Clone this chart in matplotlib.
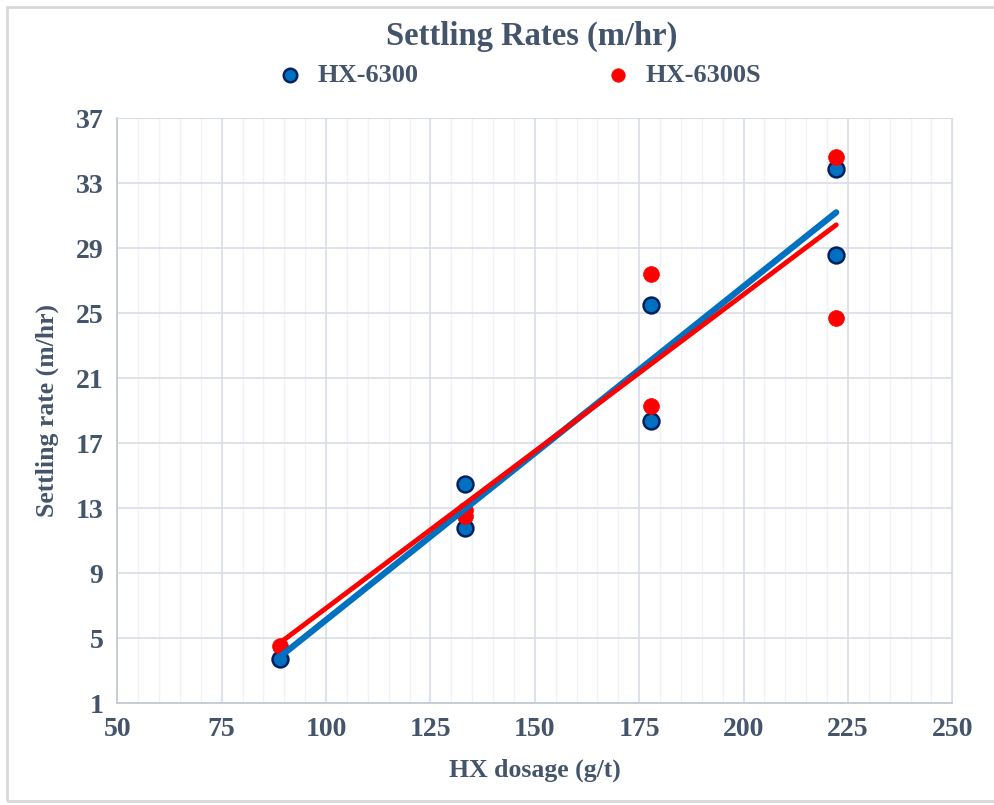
import matplotlib.pyplot as plt
import numpy as np
from matplotlib.patches import Rectangle
from matplotlib.ticker import MultipleLocator

# Dosage (g/t) and settling rate (m/hr)
dose_6300 = [88.9, 133.3, 133.3, 177.8, 177.8, 222.2, 222.2]
rate_6300 = [3.7, 14.5, 11.8, 25.5, 18.4, 33.9, 28.6]

dose_6300s = [88.9, 133.3, 133.3, 177.8, 177.8, 222.2, 222.2]
rate_6300s = [4.5, 12.9, 12.5, 27.4, 19.3, 34.6, 24.7]

x_ticks = [50, 75, 100, 125, 150, 175, 200, 225, 250]
y_ticks = [1, 5, 9, 13, 17, 21, 25, 29, 33, 37]

text_color = "#44546A"
blue = "#0070C0"
red = "#FF0000"

plt.rcParams['font.family'] = ['Liberation Serif', 'DejaVu Serif']
plt.rcParams['font.weight'] = 'bold'
plt.rcParams['axes.labelweight'] = 'bold'

fig = plt.figure(figsize=(9.95, 8.05), dpi=100)
ax = fig.add_axes([117.3 / 995, 1 - 703.3 / 805, (952.3 - 117.3) / 995, (703.3 - 118.3) / 805])

# outer chart border
fig.patches.append(Rectangle((7 / 995, 4 / 805), 990 / 995, 794 / 805, transform=fig.transFigure,
                             fill=False, edgecolor="#D9D9D9", linewidth=2))

ax.scatter(dose_6300, rate_6300, s=130, color=blue, edgecolor="#002060", linewidth=1.8,
           zorder=3, label="HX-6300")
ax.scatter(dose_6300s, rate_6300s, s=130, color=red, edgecolor=red, linewidth=0.5,
           zorder=3, label="HX-6300S")

# linear trendlines
for dose, rate, col, lw in [(dose_6300, rate_6300, blue, 4.5), (dose_6300s, rate_6300s, red, 3.5)]:
    m, b = np.polyfit(dose, rate, 1)
    xs = np.array([min(dose), max(dose)])
    ax.plot(xs, m * xs + b, color=col, linewidth=lw, solid_capstyle='round', zorder=4)

ax.set_xlim(50, 250)
ax.set_ylim(1, 37)
ax.set_xticks(x_ticks)
ax.set_yticks(y_ticks)
ax.xaxis.set_minor_locator(MultipleLocator(5))
ax.grid(True, which='major', color="#D9DDE6", linewidth=1.2)
ax.grid(True, which='minor', axis='x', color="#F0F2F5", linewidth=1)
ax.set_axisbelow(True)

for side in ['top', 'right']:
    ax.spines[side].set_color("#D9DDE6")
for side in ['left', 'bottom']:
    ax.spines[side].set_color("#C4CAD6")
    ax.spines[side].set_linewidth(1.3)

ax.tick_params(which='both', length=0, labelsize=20, labelcolor=text_color, pad=10)

ax.set_xlabel("HX dosage (g/t)", fontsize=18.5, color=text_color, labelpad=12)
ax.set_ylabel("Settling rate (m/hr)", fontsize=18.5, color=text_color, labelpad=12)

fig.text(0.5345, 1 - 36 / 805, "Settling Rates (m/hr)", ha='center', va='center',
         fontsize=23.5, color=text_color, fontweight='bold')

leg = fig.legend(loc='center', bbox_to_anchor=(0.522, 1 - 75 / 805), ncol=2, frameon=False,
                 fontsize=19, handlelength=0.9, handletextpad=0.6, columnspacing=7.1,
                 markerscale=0.85)
for t in leg.get_texts():
    t.set_color(text_color)

fig.savefig("out.png", dpi=100)
